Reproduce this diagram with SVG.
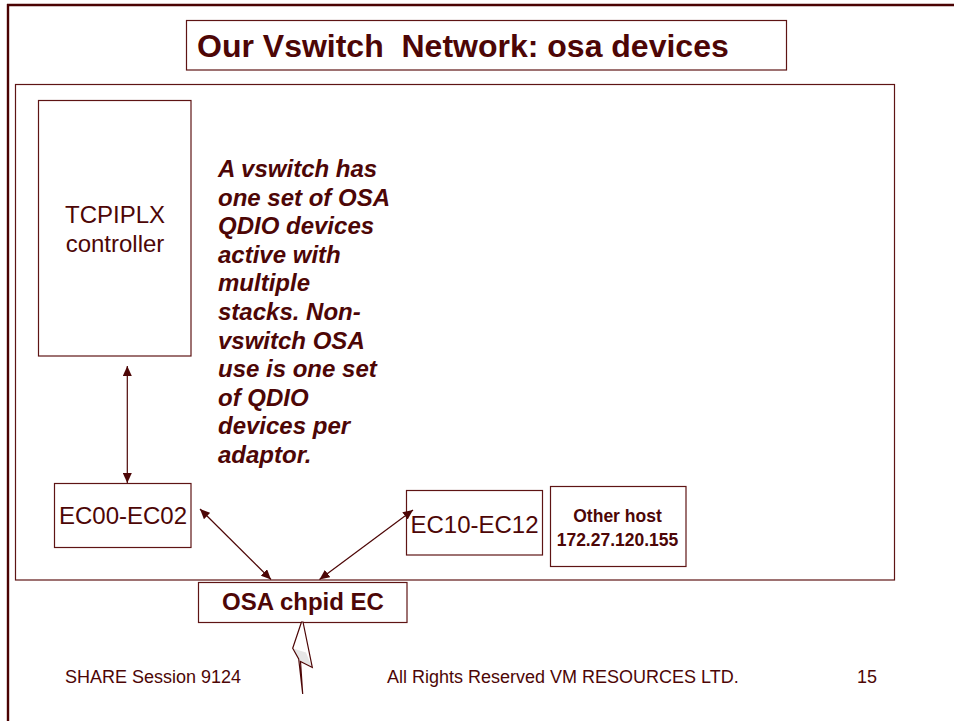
<svg xmlns="http://www.w3.org/2000/svg" width="954" height="721" viewBox="0 0 954 721">
  <defs>
    <marker id="arrow" viewBox="0 0 10 9" refX="10" refY="4.5" markerWidth="10" markerHeight="9" markerUnits="userSpaceOnUse" orient="auto-start-reverse">
      <path d="M0,0 L10,4.5 L0,9 Z" fill="#4d0606"/>
    </marker>
    <style>
      .box { fill: #ffffff; stroke: #5e1414; stroke-width: 1.2; }
      .frame { fill: none; stroke: #4a0202; stroke-width: 2.4; }
      .link { fill: none; stroke: #4d0606; stroke-width: 1.2; marker-start: url(#arrow); marker-end: url(#arrow); }
      .t { fill: #4d0606; font-family: "Liberation Sans", Arial, sans-serif; }
      .reg { font-size: 24px; }
      .bold { font-weight: bold; }
      .note { font-size: 24px; font-weight: bold; font-style: italic; }
      .foot { font-size: 18px; }
    </style>
  </defs>

  <rect width="954" height="721" fill="#ffffff"/>

  <!-- page border (top and left rules) -->
  <path class="frame" d="M7,5 H954 M8,4 V721"/>

  <!-- title -->
  <g id="title">
    <rect class="box" x="186.5" y="20.5" width="600" height="49.5"/>
    <text class="t bold" x="197" y="56.5" font-size="32" xml:space="preserve">Our Vswitch  Network: osa devices</text>
  </g>

  <!-- enclosing network frame -->
  <g id="network">
    <rect class="box" x="15.5" y="84.5" width="879" height="495.5"/>
  </g>

  <g id="tcpiplx">
    <rect class="box" x="38.5" y="100.5" width="152.5" height="255.5"/>
    <text class="t reg" x="115" y="223" text-anchor="middle">TCPIPLX</text>
    <text class="t reg" x="115" y="252" text-anchor="middle">controller</text>
  </g>

  <g id="note">
    <text class="t note">
      <tspan x="218" y="177">A vswitch has</tspan>
      <tspan x="218" y="205.6">one set of OSA</tspan>
      <tspan x="218" y="234.2">QDIO devices</tspan>
      <tspan x="218" y="262.8">active with</tspan>
      <tspan x="218" y="291.4">multiple</tspan>
      <tspan x="218" y="320">stacks. Non-</tspan>
      <tspan x="218" y="348.6">vswitch OSA</tspan>
      <tspan x="218" y="377.2">use is one set</tspan>
      <tspan x="218" y="405.8">of QDIO</tspan>
      <tspan x="218" y="434.4">devices per</tspan>
      <tspan x="218" y="463">adaptor.</tspan>
    </text>
  </g>

  <g id="ec00">
    <rect class="box" x="54.5" y="483.5" width="136.5" height="64"/>
    <text class="t reg" x="123" y="524" text-anchor="middle">EC00-EC02</text>
  </g>

  <g id="ec10">
    <rect class="box" x="406.5" y="490.5" width="136" height="64.5"/>
    <text class="t reg" x="474.5" y="533.3" text-anchor="middle">EC10-EC12</text>
  </g>

  <g id="other-host">
    <rect class="box" x="550.5" y="486.5" width="135.5" height="80"/>
    <text class="t bold" x="617.5" y="521.7" font-size="17.5" text-anchor="middle">Other host</text>
    <text class="t bold" x="617.5" y="546" font-size="17.5" text-anchor="middle">172.27.120.155</text>
  </g>

  <g id="osa">
    <rect class="box" x="198.5" y="582.5" width="208.5" height="40"/>
    <text class="t bold" x="303" y="609.5" font-size="24" text-anchor="middle">OSA chpid EC</text>
    <!-- external link bolt: white body with a shaded jog -->
    <polygon points="301.5,622 292.7,648.3 298.7,659 302.7,694 300.5,661.5 312.3,667.5 303,622" fill="#ffffff"/>
    <polygon points="293.2,648.5 306,652.5 311.8,667 300,661" fill="#e6e6e6"/>
    <polygon points="301.5,622 292.7,648.3 298.7,659 302.7,694 300.5,661.5 312.3,667.5 303,622" fill="none" stroke="#4d0606" stroke-width="1.2" stroke-linejoin="miter"/>
  </g>

  <g id="connectors">
    <line class="link" x1="127.3" y1="366" x2="127.3" y2="483"/>
    <line class="link" x1="200" y1="509" x2="271" y2="579.5"/>
    <line class="link" x1="413" y1="510" x2="319.5" y2="579.5"/>
  </g>

  <g id="footer">
    <text class="t foot" x="65" y="683">SHARE Session 9124</text>
    <text class="t foot" x="387" y="683">All Rights Reserved VM RESOURCES LTD.</text>
    <text class="t foot" x="857" y="683">15</text>
  </g>
</svg>
